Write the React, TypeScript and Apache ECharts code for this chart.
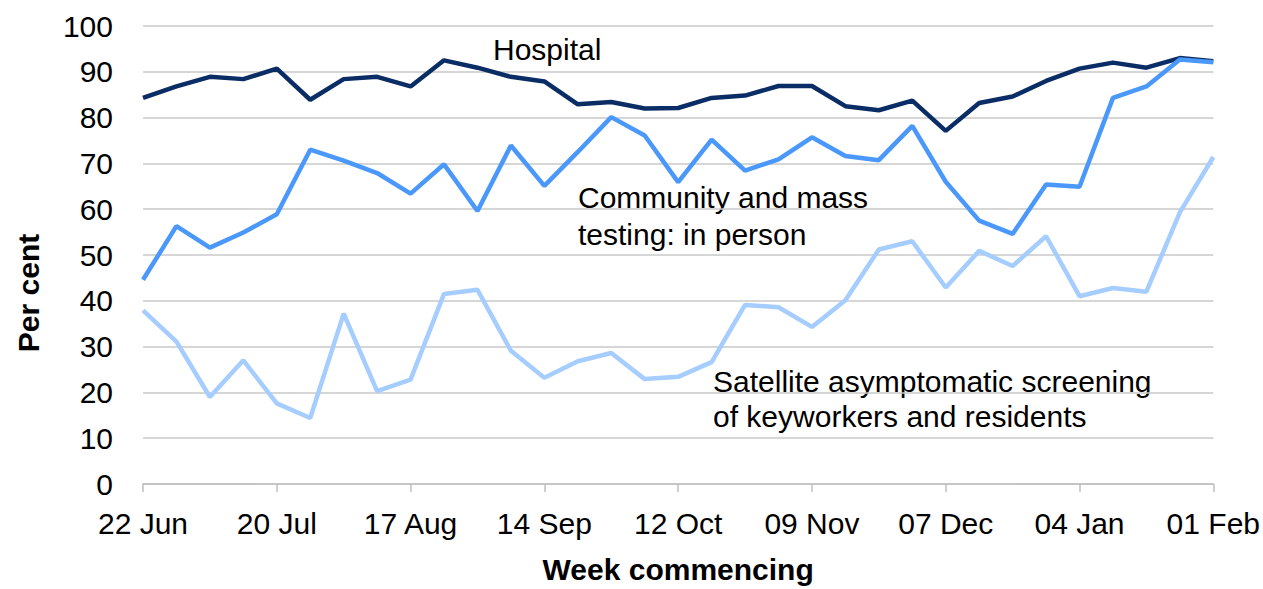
import React, { useEffect, useRef } from "react";
import * as echarts from "echarts";

const weeks = [
  "22 Jun", "29 Jun", "06 Jul", "13 Jul", "20 Jul", "27 Jul", "03 Aug", "10 Aug",
  "17 Aug", "24 Aug", "31 Aug", "07 Sep", "14 Sep", "21 Sep", "28 Sep", "05 Oct",
  "12 Oct", "19 Oct", "26 Oct", "02 Nov", "09 Nov", "16 Nov", "23 Nov", "30 Nov",
  "07 Dec", "14 Dec", "21 Dec", "28 Dec", "04 Jan", "11 Jan", "18 Jan", "25 Jan",
  "01 Feb",
];

const hospital = [
  84.3, 86.8, 88.9, 88.4, 90.7, 83.9, 88.4, 88.9, 86.8, 92.5, 90.9, 88.9, 87.9,
  82.9, 83.4, 82.0, 82.1, 84.3, 84.8, 86.9, 86.9, 82.5, 81.6, 83.7, 77.1, 83.2,
  84.6, 88.0, 90.7, 92.0, 90.9, 93.0, 92.3,
];

const community = [
  44.6, 56.3, 51.6, 54.9, 58.9, 73.0, 70.6, 67.9, 63.4, 69.8, 59.6, 73.9, 65.1,
  72.5, 80.1, 76.1, 65.9, 75.2, 68.4, 70.9, 75.7, 71.6, 70.7, 78.2, 66.0, 57.5,
  54.6, 65.4, 64.9, 84.3, 86.8, 92.7, 92.1,
];

const satellite = [
  37.9, 31.1, 19.0, 27.0, 17.6, 14.4, 37.2, 20.3, 22.8, 41.5, 42.4, 29.1, 23.2,
  26.8, 28.6, 22.9, 23.4, 26.6, 39.1, 38.6, 34.3, 40.1, 51.2, 53.0, 42.9, 50.9,
  47.6, 54.1, 41.0, 42.8, 42.0, 59.3, 71.4,
];

const seriesNames = [
  "Hospital",
  "Community and mass\ntesting: in person",
  "Satellite asymptomatic screening\nof keyworkers and residents",
];

const FONT = "'Liberation Sans', Arial, sans-serif";

export default function App() {
  const ref = useRef<HTMLDivElement>(null);

  useEffect(() => {
    if (!ref.current) return;
    const chart = echarts.init(ref.current, null, { renderer: "svg" });
    const lineSeries = (name: string, data: number[], color: string) => ({
      name,
      type: "line",
      data,
      symbol: "none",
      smooth: false,
      lineStyle: { color, width: 4.5 },
      itemStyle: { color },
    });
    chart.setOption({
      animation: false,
      backgroundColor: "#ffffff",
      textStyle: { fontFamily: FONT },
      grid: { left: 143, right: 49, top: 26, bottom: 99, containLabel: false },
      xAxis: {
        type: "category",
        data: weeks,
        boundaryGap: false,
        name: "Week commencing",
        nameLocation: "middle",
        nameGap: 70,
        nameTextStyle: { fontFamily: FONT, fontSize: 30, fontWeight: "bold", color: "#000" },
        axisLine: { show: true, lineStyle: { color: "#bfbfbf", width: 1.5 } },
        axisTick: { show: true, interval: 3, length: 8, lineStyle: { color: "#bfbfbf", width: 1.5 } },
        axisLabel: { interval: 3, fontFamily: FONT, fontSize: 30, color: "#000", margin: 24 },
        splitLine: { show: false },
      },
      yAxis: {
        type: "value",
        min: 0,
        max: 100,
        interval: 10,
        axisLine: { show: false },
        axisTick: { show: false },
        axisLabel: { fontFamily: FONT, fontSize: 30, color: "#000", margin: 30 },
        splitLine: { show: true, lineStyle: { color: "#c8c8c8", width: 1.5 } },
      },
      graphic: [
        {
          type: "text",
          x: 28,
          y: 293,
          rotation: Math.PI / 2,
          style: {
            text: "Per cent",
            font: `bold 30px ${FONT}`,
            fill: "#000",
            align: "center",
            verticalAlign: "middle",
          },
        },
        {
          type: "text",
          x: 493,
          y: 49,
          style: { text: seriesNames[0], font: `30px ${FONT}`, fill: "#000", verticalAlign: "middle" },
        },
        {
          type: "text",
          x: 578,
          y: 216,
          style: { text: seriesNames[1], font: `30px ${FONT}`, fill: "#000", verticalAlign: "middle", lineHeight: 37 },
        },
        {
          type: "text",
          x: 713,
          y: 399,
          style: { text: seriesNames[2], font: `30px ${FONT}`, fill: "#000", verticalAlign: "middle", lineHeight: 35 },
        },
      ],
      series: [
        lineSeries(seriesNames[0], hospital, "#0b2d66"),
        lineSeries(seriesNames[1], community, "#4a98fb"),
        lineSeries(seriesNames[2], satellite, "#a6cdff"),
      ],
    });
    return () => chart.dispose();
  }, []);

  return (
    <div
      ref={ref}
      style={{ position: "absolute", left: 0, top: 0, width: 1263, height: 589 }}
    />
  );
}
